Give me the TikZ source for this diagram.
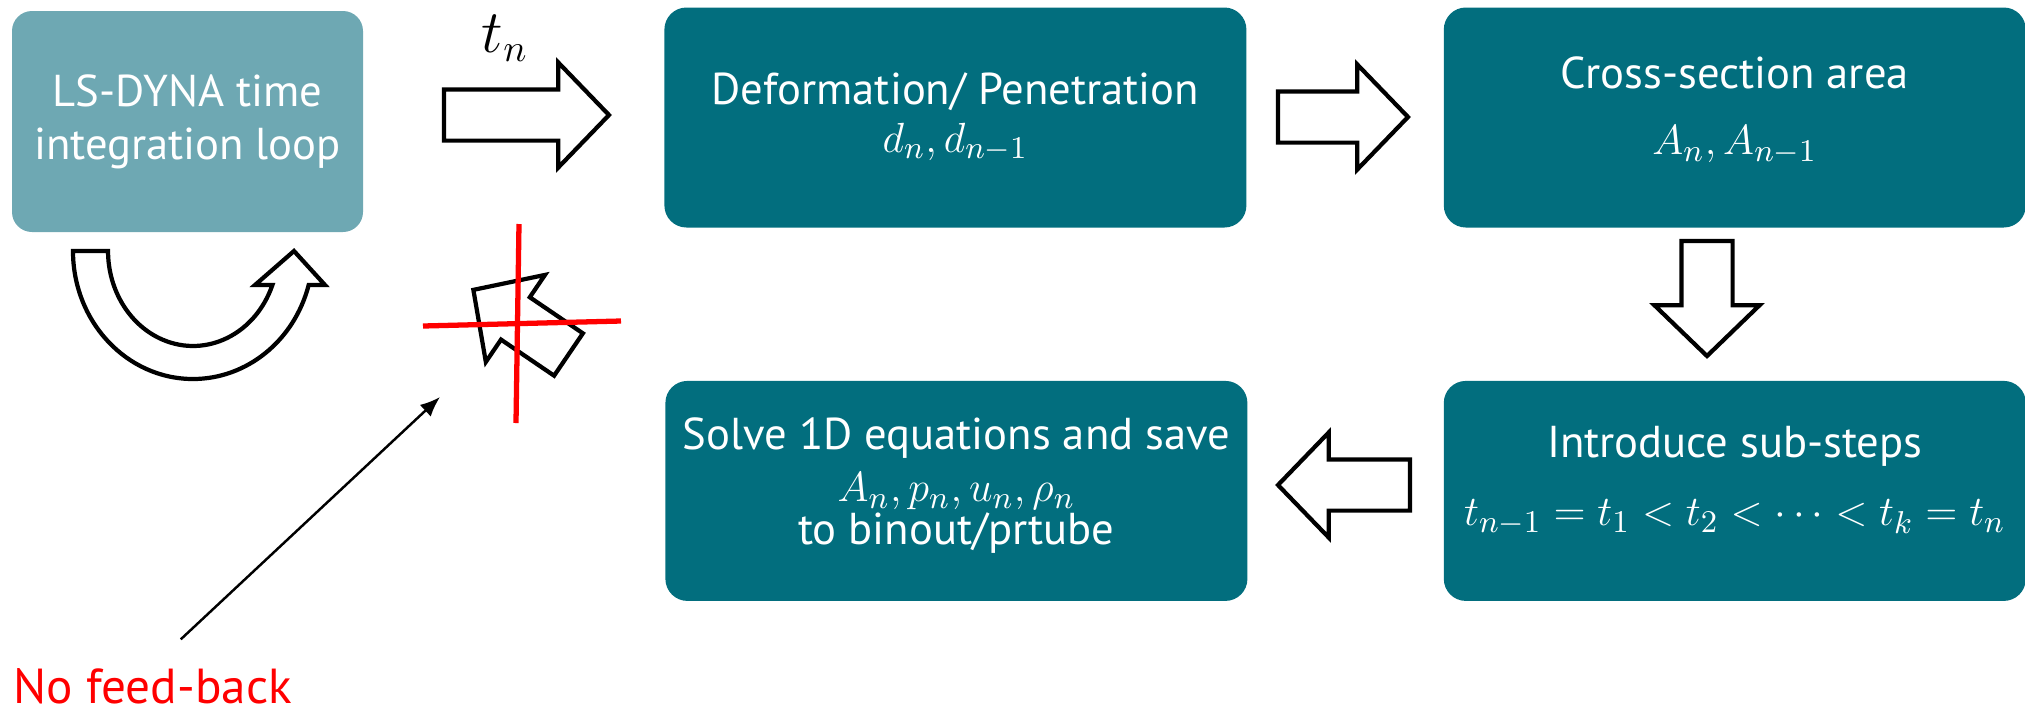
\documentclass[tikz,border=0pt]{standalone}
\usepackage{fontspec}
\setsansfont{PT Sans}
\usetikzlibrary{shapes.arrows, arrows.meta, positioning, calc}
\definecolor{cajaPaso}{HTML}{026E7E}
\definecolor{cajaBucle}{HTML}{6EA8B3}
\definecolor{rojoCruz}{HTML}{FF0000}
\newcommand{\textoCaja}{\fontsize{12.7}{15}\selectfont}
\newcommand{\bajar}[1]{\rule[-#1]{0pt}{0pt}}

\begin{document}
\begin{tikzpicture}[
    bucle/.style={fill=cajaBucle, rounded corners=0.2cm, minimum width=3.51cm,
        minimum height=2.21cm, align=center, text=white, font=\sffamily\textoCaja},
    paso/.style={fill=cajaPaso, rounded corners=0.22cm, minimum width=5.82cm,
        minimum height=2.2cm, align=center, text=white, font=\sffamily\textoCaja},
    flecha/.style={single arrow, draw=black, line width=1.2pt, fill=white, anchor=tail,
        inner xsep=0pt, inner ysep=0.235cm, single arrow head extend=0.27cm,
        single arrow tip angle=92, outer sep=0pt},
    contorno/.style={draw=black, line width=1.2pt, fill=white},
    tachado/.style={draw=rojoCruz, line width=1.5pt},
    nota/.style={-{Latex[length=0.2cm, width=0.16cm]}, line width=0.7pt}
  ]
  \useasboundingbox (0,0) rectangle (20.25,-7.15);

  % cajas
  \node[bucle] (loop) at (1.875,-1.215) {LS-DYNA time\\integration loop};
  \node[paso, right=3.0cm of loop, yshift=0.04cm] (deform) {Deformation/ Penetration\\[-0.05cm]$d_n, d_{n-1}$};
  \node[paso, right=1.96cm of deform] (cross) {Cross-section area\\[0.14cm]$A_n, A_{n-1}$\bajar{0.24cm}};
  \node[paso, below=1.52cm of cross] (substeps) {Introduce sub-steps\\[0.16cm]$t_{n-1}=t_1<t_2<\cdots<t_k=t_n$\bajar{0.30cm}};
  \node[paso, left=1.95cm of substeps] (solve) {Solve 1D equations and save\\$A_n, p_n, u_n, \rho_n$\\[-0.1cm]to binout/prtube\bajar{0.2cm}};

  % flechas de bloque
  \node[flecha, minimum height=1.65cm] (a1) at (4.44,-1.15) {};
  \node[font=\fontsize{16}{18}\selectfont] (tn) at (5.05,-0.38) {$t_n$};
  \node[flecha, minimum height=1.30cm] (a2) at (12.78,-1.17) {};
  \node[flecha, minimum height=1.15cm, rotate=-90] (a3) at (17.07,-2.41) {};
  \node[flecha, minimum height=1.32cm, rotate=180] (a4) at (14.10,-4.85) {};

  % lazo de LS-DYNA
  \draw[contorno] (0.73,-2.51) arc[start angle=180, end angle=344.6, x radius=1.20, y radius=1.28]
    -- (3.25,-2.85) -- (2.94,-2.51) -- (2.55,-2.85) -- (2.724,-2.85)
    arc[start angle=339, end angle=180, x radius=0.85, y radius=0.95] -- cycle;

  % realimentacion tachada
  \node[flecha, minimum height=1.15cm, rotate=145.8] (back) at (5.685,-3.545) {};
  \draw[tachado] (5.19,-2.24) -- (5.16,-4.23);
  \draw[tachado] (4.23,-3.26) -- (6.21,-3.21);

  \node[text=rojoCruz, font=\sffamily\fontsize{14}{16}\selectfont, inner sep=0pt, anchor=base west] (nofb) at (0.13,-7.03) {No feed-back};
  \draw[nota] ([shift={(0.28,0.28)}]nofb.north) -- (4.40,-3.97);
\end{tikzpicture}
\end{document}
